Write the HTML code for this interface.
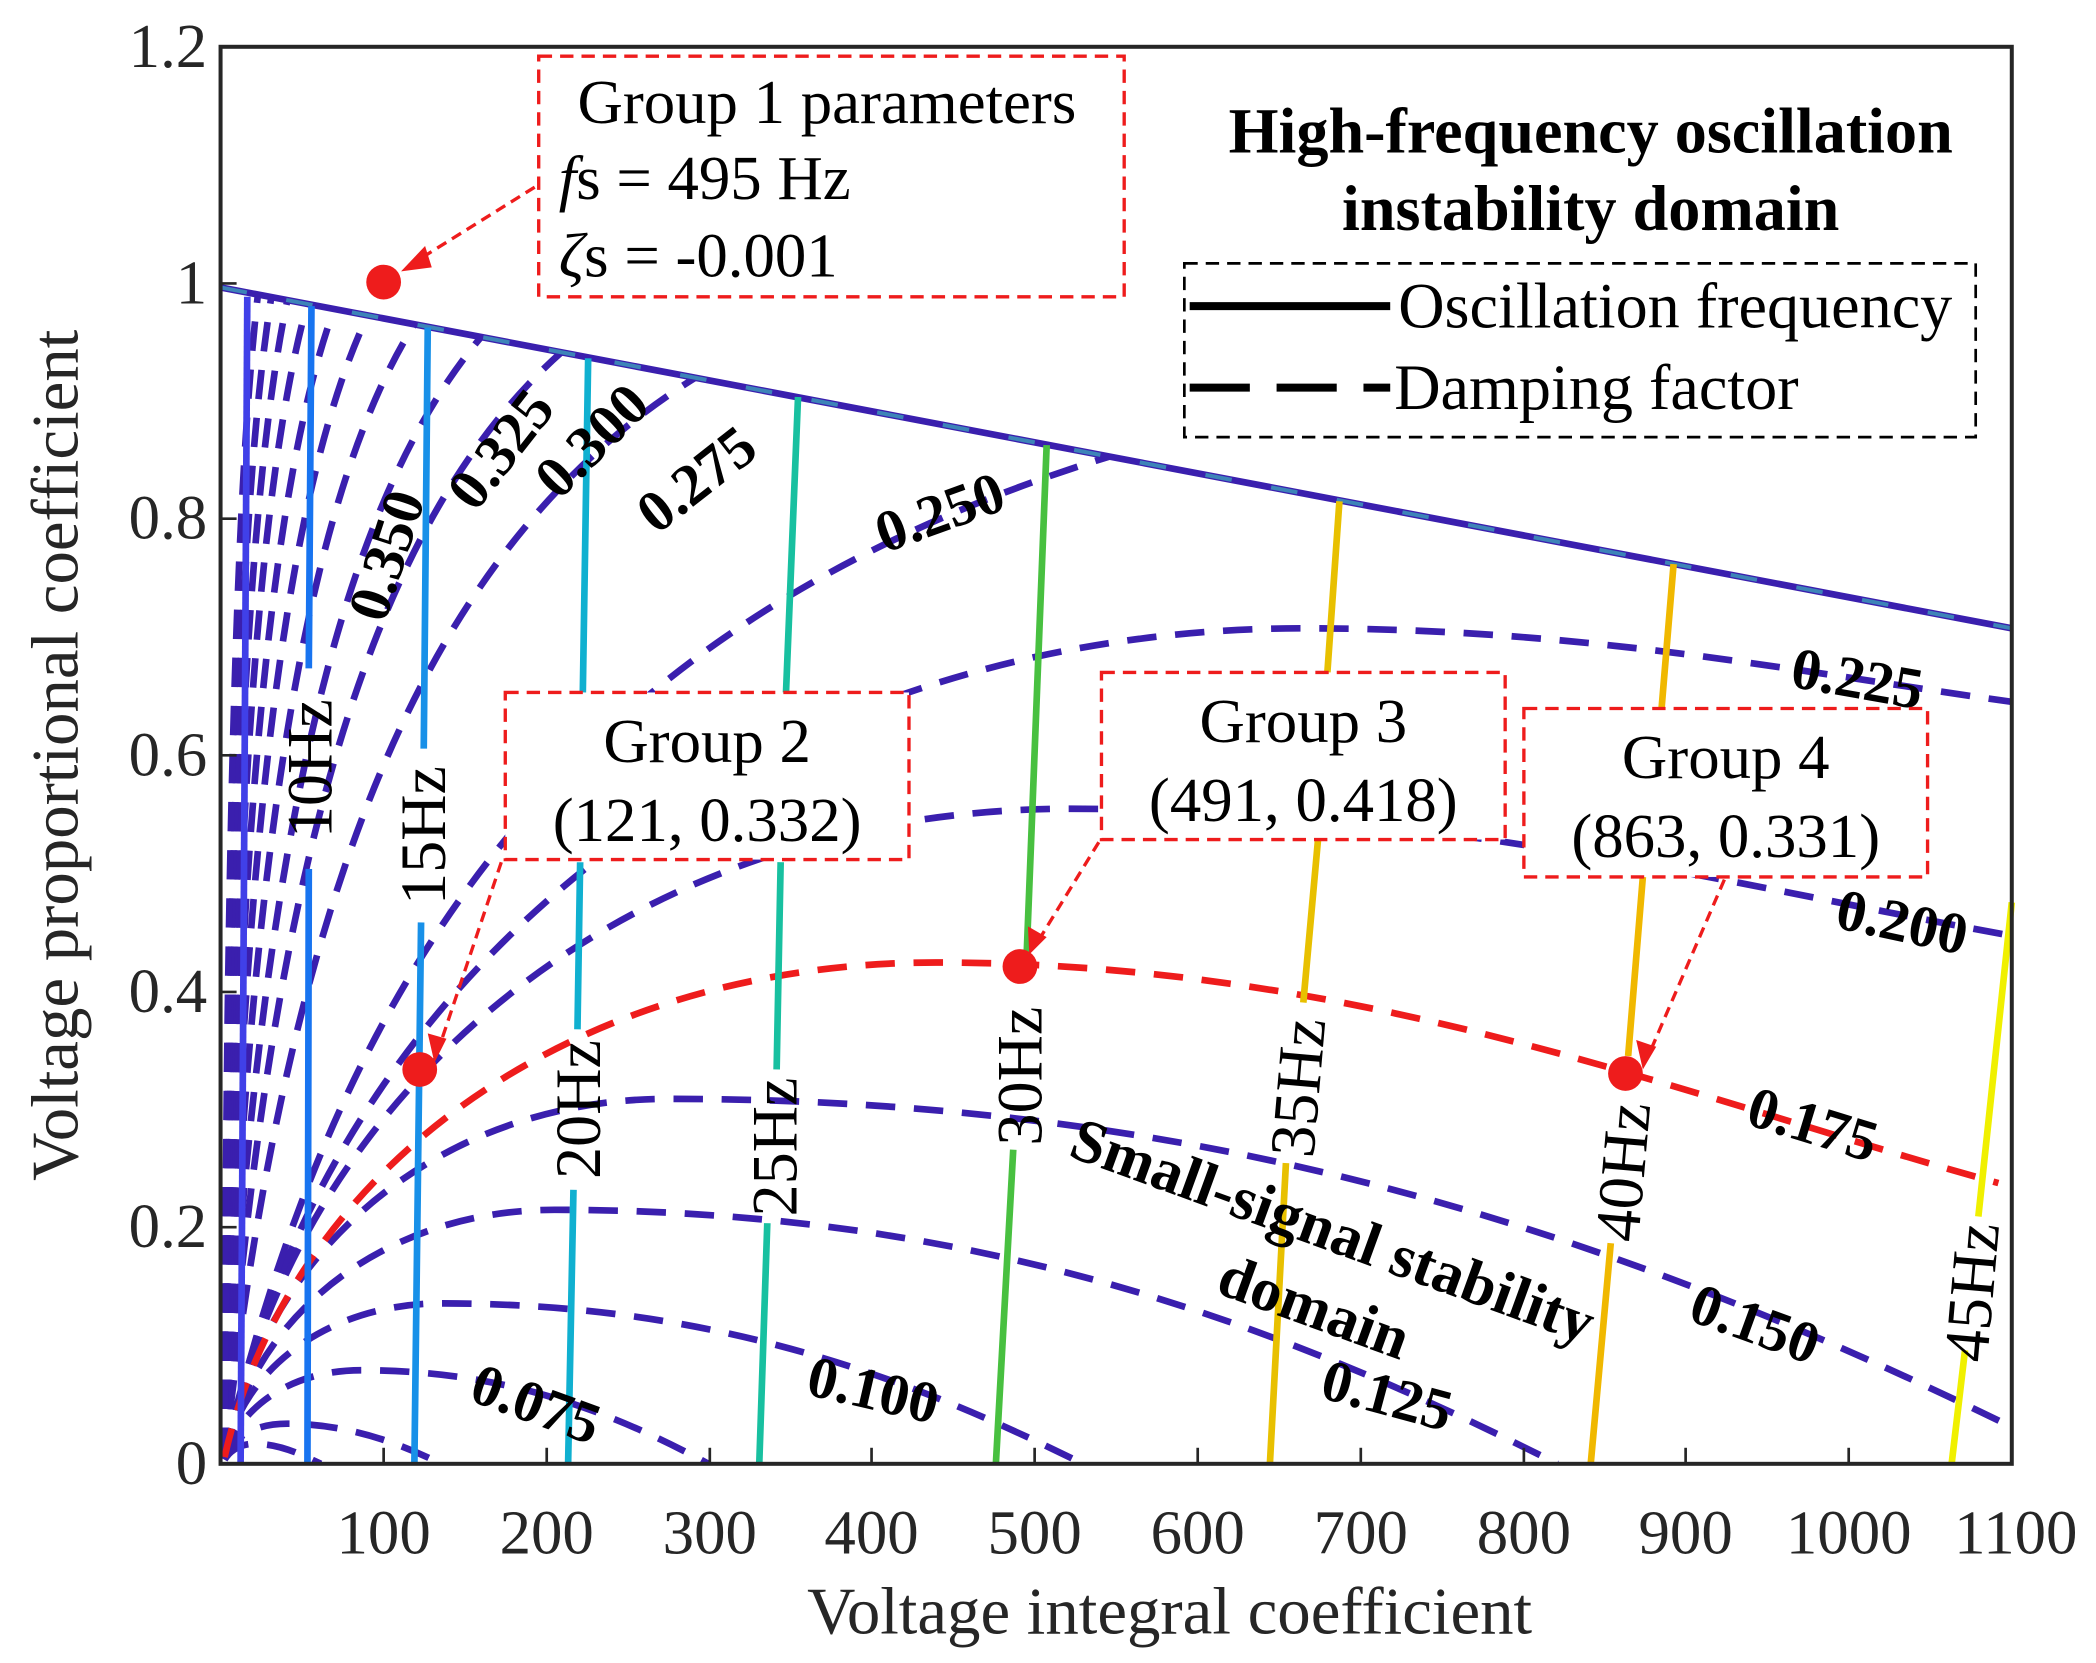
<!DOCTYPE html>
<html><head><meta charset="utf-8"><style>html,body{margin:0;padding:0;background:#fff}svg{display:block}</style></head><body>
<svg width="2096" height="1663" viewBox="0 0 1568 1244" preserveAspectRatio="none" xmlns="http://www.w3.org/2000/svg" font-family="'Liberation Serif', serif">
<rect width="1568" height="1244" fill="#fff"/>
<defs><clipPath id="ax"><polygon points="165,213 1505,468 1505,1095 165,1095"/></clipPath></defs>
<g clip-path="url(#ax)" fill="none" stroke="#3a1fae" stroke-width="5" stroke-dasharray="22 14">
<path d="M168,1090 C178.5,1053 217.5,1025 270,1025 C374,1025 452,1053 530,1095"/>
<path d="M168,1090 C181,1023 247,975 330,975 C522,975 666,1023 810,1095"/>
<path d="M168,1090 C190,981 290,905 415,905 C715,905 940,981 1165,1095"/>
<path d="M168,1090 C198,931 332,822 500,822 C900,822 1200,919 1500,1065"/>
<path d="M168,1090 C228,801 482,605 800,605 C1082,605 1294,662 1505,700"/>
<path d="M168,1090 C246,720 570,470 975,470 C1187,470 1346,503 1505,525"/>
<path d="M168,1090 C264.75,680.6 464,454.5 830,341.5"/>
<path d="M168,1090 C218,648 325,404.5 520,282.6"/>
<path d="M168,1090 C203,638 280,388 420,263.5"/>
<path d="M168,1090 C194,631 253,379 360,252"/>
<path d="M168,1090 C187,626 230,370 310,242.6"/>
<path d="M168,1090 C181.5,623 214.5,365 275,236"/>
<path d="M168,1090 C178,620 203,361 250,231"/>
<path d="M168,1090 C175,618 194,357 230,227"/>
<path d="M168,1090 C172.5,617 187.5,355 215,224.5"/>
<path d="M168,1090 C170.7,617 182,354 203,222"/>
<path d="M168,1090 C169,617 177.6,352 193,220"/>
<path d="M168,1090 C175,1075 190,1065 215,1065 C260,1065 300,1080 330,1095"/>
<path d="M168,1092 C172,1085 180,1080 190,1080 C210,1080 225,1088 240,1095"/>
<path d="M168,1090 C218,870 432,720 700,720 C1018,720 1256,819 1495,885" stroke="#ee1c1c"/>
</g>
<line x1="165" y1="215" x2="1505" y2="470" stroke="#3a1fae" stroke-width="5"/>
<line x1="165" y1="215" x2="1505" y2="470" stroke="#40c8c0" stroke-width="3" stroke-dasharray="20 30" opacity="0.6"/>
<g stroke-width="5" fill="none">
<line x1="185" y1="222" x2="180" y2="1095" stroke="#4040e8"/>
<path d="M233,229 L231,500 M231,650 L230,1095" stroke="#1874f0"/>
<path d="M320,245 L317,560 M315,690 L310,1095" stroke="#1890e8"/>
<path d="M440,268 L436,518 M434,645 L432,770 M429,890 L425,1095" stroke="#10b0d0"/>
<path d="M597,297 L588,518 M584,645 L581,800 M574,915 L568,1095" stroke="#18c0a0"/>
<path d="M783,333 L768,715 M758,860 L745,1095" stroke="#48c040"/>
<path d="M1002,375 L993,503 M986,628 L975,750 M962,870 L950,1095" stroke="#e8c000"/>
<path d="M1252,422 L1243,530 M1229,656 L1218,790 M1205,930 L1190,1095" stroke="#f0b800"/>
<path d="M1505,675 L1480,910 M1470,1010 L1460,1095" stroke="#f0f000"/>
</g>
<g font-size="48" fill="#000" text-anchor="middle">
<text transform="translate(248,575) rotate(-90)">10Hz</text>
<text transform="translate(333,625) rotate(-90)">15Hz</text>
<text transform="translate(449,830) rotate(-90)">20Hz</text>
<text transform="translate(596,858) rotate(-90)">25Hz</text>
<text transform="translate(779,805) rotate(-90)">30Hz</text>
<text transform="translate(987,815) rotate(-85)">35Hz</text>
<text transform="translate(1230,878) rotate(-85)">40Hz</text>
<text transform="translate(1491,968) rotate(-85)">45Hz</text>
</g>
<g font-size="44" fill="#000" text-anchor="middle" font-weight="bold">
<text transform="translate(303,420) rotate(-72)">0.350</text>
<text transform="translate(386,345) rotate(-52)">0.325</text>
<text transform="translate(453,340) rotate(-45)">0.300</text>
<text transform="translate(530,370) rotate(-38)">0.275</text>
<text transform="translate(708,397) rotate(-20)">0.250</text>
<text transform="translate(1387,522) rotate(10)">0.225</text>
<text transform="translate(1420,704) rotate(12)">0.200</text>
<text transform="translate(1352,855) rotate(17)">0.175</text>
<text transform="translate(1308,1004) rotate(20)">0.150</text>
<text transform="translate(1034,1058) rotate(15)">0.125</text>
<text transform="translate(650,1054) rotate(13)">0.100</text>
<text transform="translate(396,1064) rotate(20)">0.075</text>
</g>
<rect x="165" y="35" width="1340" height="1060" fill="none" stroke="#262626" stroke-width="3"/>
<g stroke="#262626" stroke-width="2">
<line x1="287" y1="1095" x2="287" y2="1083"/><line x1="409" y1="1095" x2="409" y2="1083"/><line x1="531" y1="1095" x2="531" y2="1083"/><line x1="652" y1="1095" x2="652" y2="1083"/><line x1="774" y1="1095" x2="774" y2="1083"/><line x1="896" y1="1095" x2="896" y2="1083"/><line x1="1018" y1="1095" x2="1018" y2="1083"/><line x1="1140" y1="1095" x2="1140" y2="1083"/><line x1="1261" y1="1095" x2="1261" y2="1083"/><line x1="1383" y1="1095" x2="1383" y2="1083"/>
<line x1="165" y1="918" x2="177" y2="918"/><line x1="165" y1="742" x2="177" y2="742"/><line x1="165" y1="565" x2="177" y2="565"/><line x1="165" y1="388" x2="177" y2="388"/><line x1="165" y1="212" x2="177" y2="212"/>
</g>
<g font-size="47" fill="#262626" text-anchor="middle">
<text x="287" y="1162">100</text><text x="409" y="1162">200</text><text x="531" y="1162">300</text><text x="652" y="1162">400</text><text x="774" y="1162">500</text><text x="896" y="1162">600</text><text x="1018" y="1162">700</text><text x="1140" y="1162">800</text><text x="1261" y="1162">900</text><text x="1383" y="1162">1000</text><text x="1508" y="1162">1100</text>
</g>
<g font-size="47" fill="#262626" text-anchor="end">
<text x="155" y="1110">0</text><text x="155" y="933">0.2</text><text x="155" y="757">0.4</text><text x="155" y="580">0.6</text><text x="155" y="403">0.8</text><text x="155" y="227">1</text><text x="155" y="50">1.2</text>
</g>
<text x="875" y="1222" font-size="50" text-anchor="middle" fill="#262626">Voltage integral coefficient</text>
<text transform="translate(58,565) rotate(-90)" font-size="50" text-anchor="middle" fill="#262626">Voltage proportional coefficient</text>
<g font-size="48" font-weight="bold" text-anchor="middle" fill="#000">
<text x="1190" y="114">High-frequency oscillation</text>
<text x="1190" y="172">instability domain</text>
</g>
<rect x="886" y="197" width="592" height="130" fill="#fff" stroke="#000" stroke-width="2" stroke-dasharray="10 6"/>
<line x1="890" y1="229" x2="1040" y2="229" stroke="#000" stroke-width="6"/>
<line x1="890" y1="290" x2="1040" y2="290" stroke="#000" stroke-width="6" stroke-dasharray="45 20"/>
<text x="1046" y="245" font-size="48">Oscillation frequency</text>
<text x="1043" y="306" font-size="48">Damping factor</text>
<g font-size="46" font-weight="bold" text-anchor="middle" fill="#000">
<text transform="translate(992,935) rotate(20)">Small-signal stability</text>
<text transform="translate(978,992) rotate(20)">domain</text>
</g>
<g fill="#fff" stroke="#ee1c1c" stroke-width="2.5" stroke-dasharray="10 6">
<rect x="403" y="42" width="438" height="180"/>
<rect x="378" y="518" width="302" height="125"/>
<rect x="824" y="503" width="302" height="125"/>
<rect x="1140" y="530" width="302" height="126"/>
</g>
<g font-size="47" fill="#000">
<text x="432" y="92">Group 1 parameters</text>
<text x="418" y="149"><tspan font-style="italic">f</tspan>s = 495 Hz</text>
<text x="418" y="207"><tspan font-style="italic">ζ</tspan>s = -0.001</text>
</g>
<g font-size="47" fill="#000" text-anchor="middle">
<text x="529" y="570">Group 2</text><text x="529" y="629">(121, 0.332)</text>
<text x="975" y="555">Group 3</text><text x="975" y="614">(491, 0.418)</text>
<text x="1291" y="582">Group 4</text><text x="1291" y="641">(863, 0.331)</text>
</g>
<g stroke="#ee1c1c" stroke-width="2.5" stroke-dasharray="8 5" fill="none">
<path d="M400,140 L312,195"/>
<path d="M375,645 L328,785"/>
<path d="M822,630 L776,705"/>
<path d="M1290,658 L1233,790"/>
</g>
<g fill="#ee1c1c">
<polygon points="300,203 318,184 323,200"/>
<polygon points="325,795 320,773 334,777"/>
<polygon points="770,714 769,693 783,701"/>
<polygon points="1229,800 1224,778 1239,783"/>
<circle cx="287" cy="211" r="13"/>
<circle cx="314" cy="800" r="13"/>
<circle cx="763" cy="723" r="13"/>
<circle cx="1216" cy="803" r="13"/>
</g>
</svg>
</body></html>
